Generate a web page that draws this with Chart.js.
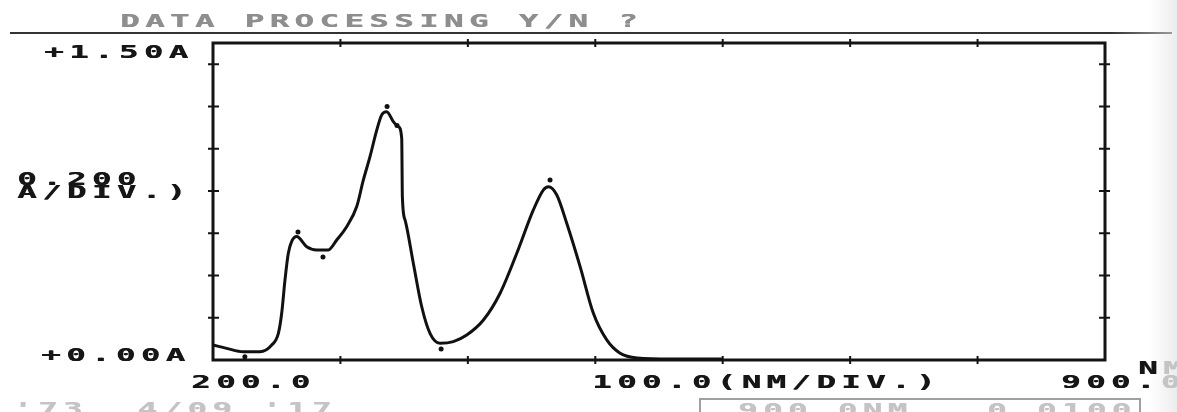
<!DOCTYPE html>
<html>
<head>
<meta charset="utf-8">
<script src="https://cdn.jsdelivr.net/npm/chart.js@4.4.0/dist/chart.umd.min.js"></script>
<style>
  html, body { margin: 0; padding: 0; background: #fff; }
  #wrap { position: relative; width: 1177px; height: 412px; overflow: hidden;
    background: linear-gradient(to right, #fff 0, #fff 1150px, #ececec 1177px); }
  #c { position: absolute; left: 0; top: 0; }
  .t { position: absolute; font-family: "DejaVu Sans Mono", monospace; font-weight: bold;
    font-size: 18px; line-height: 18px; letter-spacing: 3px; white-space: pre;
    transform: scaleX(1.8); transform-origin: 0 0; color: #161616;
    text-shadow: 0.4px 0 0 currentColor; }
  .grey { color: #8e8e8e; }
  .faint { color: #c4c4c4; }
  #rule { position: absolute; left: 10px; top: 32px; width: 1162px; height: 2px;
    background: linear-gradient(to right, #333 0, #333 1100px, #999 1162px); }
  #box { position: absolute; left: 699px; top: 398px; width: 438px; height: 30px;
    border: 2px solid #a0a0a0; }
</style>
</head>
<body>
<div id="wrap">
  <canvas id="c" width="1177" height="412"></canvas>
  <div id="rule"></div>
  <div id="box"></div>
  <div class="t grey" style="left:120px;top:12px">DATA PROCESSING Y/N ?</div>
  <div class="t" style="left:44px;top:43px">+1.50A</div>
  <div class="t" style="left:17px;top:170px">0.200</div>
  <div class="t" style="left:17px;top:183px">A/DIV.)</div>
  <div class="t" style="left:41px;top:346px">+0.00A</div>
  <div class="t" style="left:191px;top:373px">200.0</div>
  <div class="t" style="left:592px;top:373px">100.0(NM/DIV.)</div>
  <div class="t" style="left:1061px;top:373px">900.<span class="faint">0</span></div>
  <div class="t" style="left:1138px;top:359px">N<span class="faint">M</span></div>
  <div class="t faint" style="left:13px;top:400px">'73  4/09 '17</div>
  <div class="t faint" style="left:738px;top:401px">900.0NM   0.0100</div>
</div>
<script>
// scan: wavelength (nm) vs absorbance (A)
const wavelengths = [200, 210.7, 223.8, 236.9, 246.1, 251.3, 253.9, 256.5, 259.1, 261.7,
  265.7, 273.5, 281.4, 290.5, 297.1, 304.9, 312.8, 318, 323.2, 328.5,
  332.4, 336.3, 341.5, 345.5, 348.1, 348.6, 350.7, 357.2, 363.8, 370.3,
  378.2, 388.6, 399.1, 412.2, 425.3, 438.4, 451.4, 459.3, 463.2, 469.8,
  477.6, 488.1, 498.5, 509, 519.5, 532.8, 560, 600];
const absorbance = [0.071, 0.055, 0.039, 0.039, 0.071, 0.126, 0.221, 0.379, 0.505, 0.56,
  0.584, 0.536, 0.521, 0.521, 0.568, 0.631, 0.726, 0.852, 0.962, 1.088,
  1.16, 1.175, 1.128, 1.104, 1.049, 0.773, 0.663, 0.458, 0.252, 0.126,
  0.079, 0.087, 0.118, 0.189, 0.316, 0.505, 0.71, 0.805, 0.82, 0.781,
  0.647, 0.442, 0.221, 0.095, 0.032, 0.01, 0.005, 0.005];

// peak / valley pick marks
const markNm = [225, 266.7, 286.3, 336.6, 344.4, 379, 464.5];
const markA = [0.015, 0.606, 0.487, 1.2, 1.11, 0.052, 0.852];

const xTicks = [300, 400, 500, 600, 700, 800];
const yTicks = [0.2, 0.4, 0.6, 0.8, 1.0, 1.2, 1.4];

const frame = {
  id: "frame",
  beforeDatasetsDraw(chart) {
    const { ctx, chartArea: a, scales: { x, y } } = chart;
    ctx.save();
    ctx.strokeStyle = "#141414";
    ctx.lineWidth = 3;
    ctx.strokeRect(a.left, a.top, a.right - a.left, a.bottom - a.top);
    ctx.lineWidth = 2;
    ctx.beginPath();
    yTicks.forEach((v) => {
      const py = y.getPixelForValue(v);
      ctx.moveTo(a.left - 5, py); ctx.lineTo(a.left + 6, py);
      ctx.moveTo(a.right - 6, py); ctx.lineTo(a.right + 5, py);
    });
    xTicks.forEach((v) => {
      const px = x.getPixelForValue(v);
      ctx.moveTo(px, a.top - 4); ctx.lineTo(px, a.top + 4);
      ctx.moveTo(px, a.bottom - 4); ctx.lineTo(px, a.bottom + 4);
    });
    ctx.stroke();
    ctx.restore();
  },
};

new Chart(document.getElementById("c"), {
  type: "line",
  data: {
    datasets: [
      {
        data: wavelengths.map((w, i) => ({ x: w, y: absorbance[i] })),
        borderColor: "#111",
        borderWidth: 3,
        pointRadius: 0,
        cubicInterpolationMode: "monotone",
      },
      {
        type: "scatter",
        data: markNm.map((w, i) => ({ x: w, y: markA[i] })),
        pointRadius: 2.5,
        pointBackgroundColor: "#111",
        pointBorderWidth: 0,
      },
    ],
  },
  options: {
    responsive: false,
    animation: false,
    events: [],
    layout: { padding: { left: 213, right: 72, top: 43, bottom: 52 } },
    scales: {
      x: { type: "linear", min: 200, max: 900, display: false },
      y: { min: 0, max: 1.5, display: false },
    },
    plugins: { legend: { display: false }, tooltip: { enabled: false } },
  },
  plugins: [frame],
});
</script>
</body>
</html>
